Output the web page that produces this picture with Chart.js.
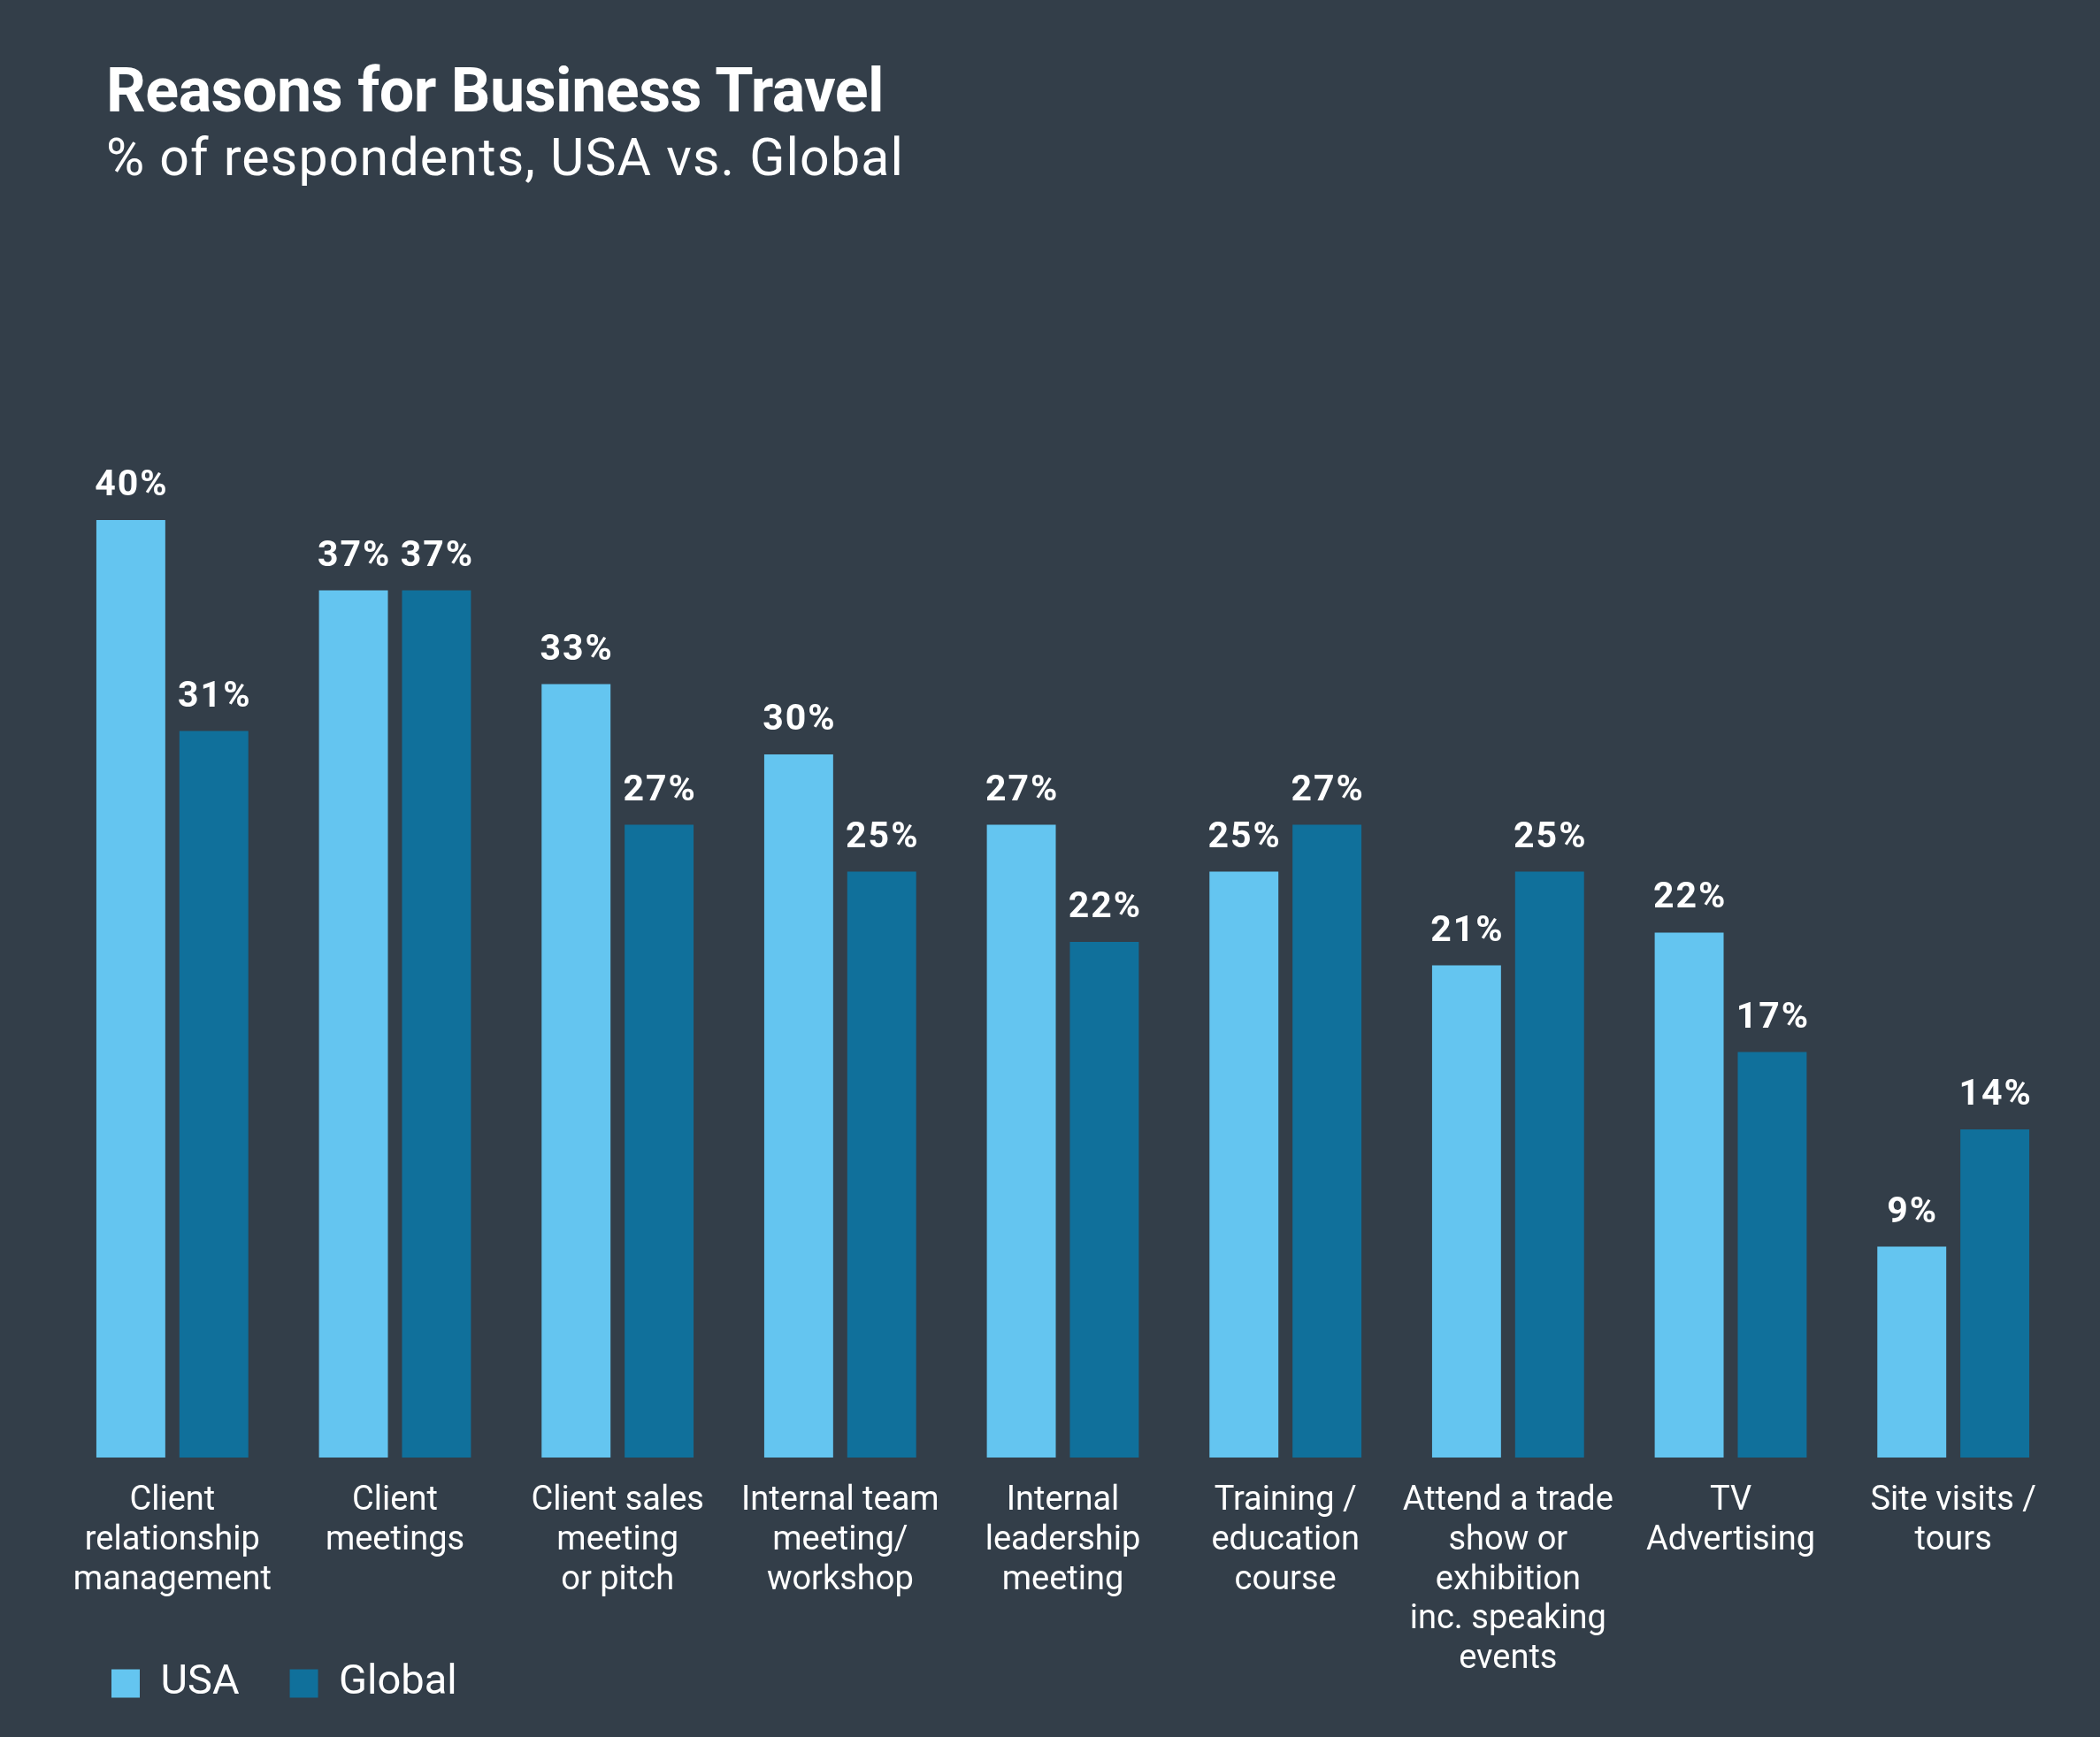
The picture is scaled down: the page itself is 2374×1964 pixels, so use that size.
<!DOCTYPE html>
<html>
<head>
<meta charset="utf-8">
<script src="https://cdn.jsdelivr.net/npm/chart.js@4.4.1/dist/chart.umd.min.js"></script>
<style>
  html, body { margin: 0; padding: 0; background: #333e49; }
  #wrap { position: relative; width: 2374px; height: 1964px; }
  #chart { position: absolute; left: 0; top: 0; }
  .title { position: absolute; left: 120px; color: #ffffff; font-family: Roboto, sans-serif; line-height: 1; white-space: nowrap; }
  #t1 { top: 67px; font-size: 70px; font-weight: 700; letter-spacing: -0.5px; }
  #t2 { top: 148px; font-size: 59px; font-weight: 400; letter-spacing: 1.2px; }
</style>
</head>
<body>
<div id="wrap">
  <canvas id="chart" width="2374" height="1964"></canvas>
  <div class="title" id="t1">Reasons for Business Travel</div>
  <div class="title" id="t2">% of respondents, USA vs. Global</div>
</div>
<script>
const categories = [
  ['Client', 'relationship', 'management'],
  ['Client', 'meetings'],
  ['Client sales', 'meeting', 'or pitch'],
  ['Internal team', 'meeting/', 'workshop'],
  ['Internal', 'leadership', 'meeting'],
  ['Training /', 'education', 'course'],
  ['Attend a trade', 'show or', 'exhibition', 'inc. speaking', 'events'],
  ['TV', 'Advertising'],
  ['Site visits /', 'tours']
];
const usa = [40, 37, 33, 30, 27, 25, 21, 22.4, 9];
const global = [31, 37, 27, 25, 22, 27, 25, 17.3, 14];

// percent labels above each bar
const valueLabels = {
  id: 'valueLabels',
  afterDatasetsDraw(chart) {
    const ctx = chart.ctx;
    ctx.save();
    ctx.font = 'bold 41px Roboto, sans-serif';
    ctx.letterSpacing = '2px';
    ctx.fillStyle = '#ffffff';
    ctx.textAlign = 'center';
    ctx.textBaseline = 'alphabetic';
    chart.data.datasets.forEach((ds, i) => {
      chart.getDatasetMeta(i).data.forEach((bar, j) => {
        ctx.fillText(Math.round(ds.data[j]) + '%', bar.x + 1, bar.y - 28);
      });
    });
    ctx.restore();
  }
};

// let the long tick labels run past the (short) axis box, under the legend row
const tallLabels = {
  id: 'tallLabels',
  afterLayout(chart) {
    const x = chart.scales.x;
    x.bottom = chart.height;
    x.height = x.bottom - x.top;
  }
};

new Chart(document.getElementById('chart'), {
  type: 'bar',
  data: {
    labels: categories,
    datasets: [
      { label: 'USA', data: usa, backgroundColor: '#64c5f0', borderWidth: 0 },
      { label: 'Global', data: global, backgroundColor: '#10709b', borderWidth: 0 }
    ]
  },
  options: {
    responsive: false,
    animation: false,
    categoryPercentage: 0.746,
    barPercentage: 0.83,
    layout: { padding: { left: 69, right: 40, top: 323, bottom: 27 } },
    scales: {
      x: {
        grid: { display: false, drawTicks: false },
        border: { display: false },
        ticks: {
          color: '#ffffff',
          font: { family: 'Roboto, sans-serif', size: 38, lineHeight: 1.18 },
          padding: 27,
          maxRotation: 0,
          autoSkip: false
        },
        afterFit(scale) { scale.height = 175; }
      },
      y: { display: false, min: 0, max: 50 }
    },
    plugins: {
      legend: {
        position: 'bottom',
        align: 'start',
        labels: {
          boxWidth: 32,
          boxHeight: 32,
          padding: 57,
          color: '#ffffff',
          font: { family: 'Roboto, sans-serif', size: 47 }
        }
      },
      tooltip: { enabled: false }
    }
  },
  plugins: [valueLabels, tallLabels]
});
</script>
</body>
</html>
